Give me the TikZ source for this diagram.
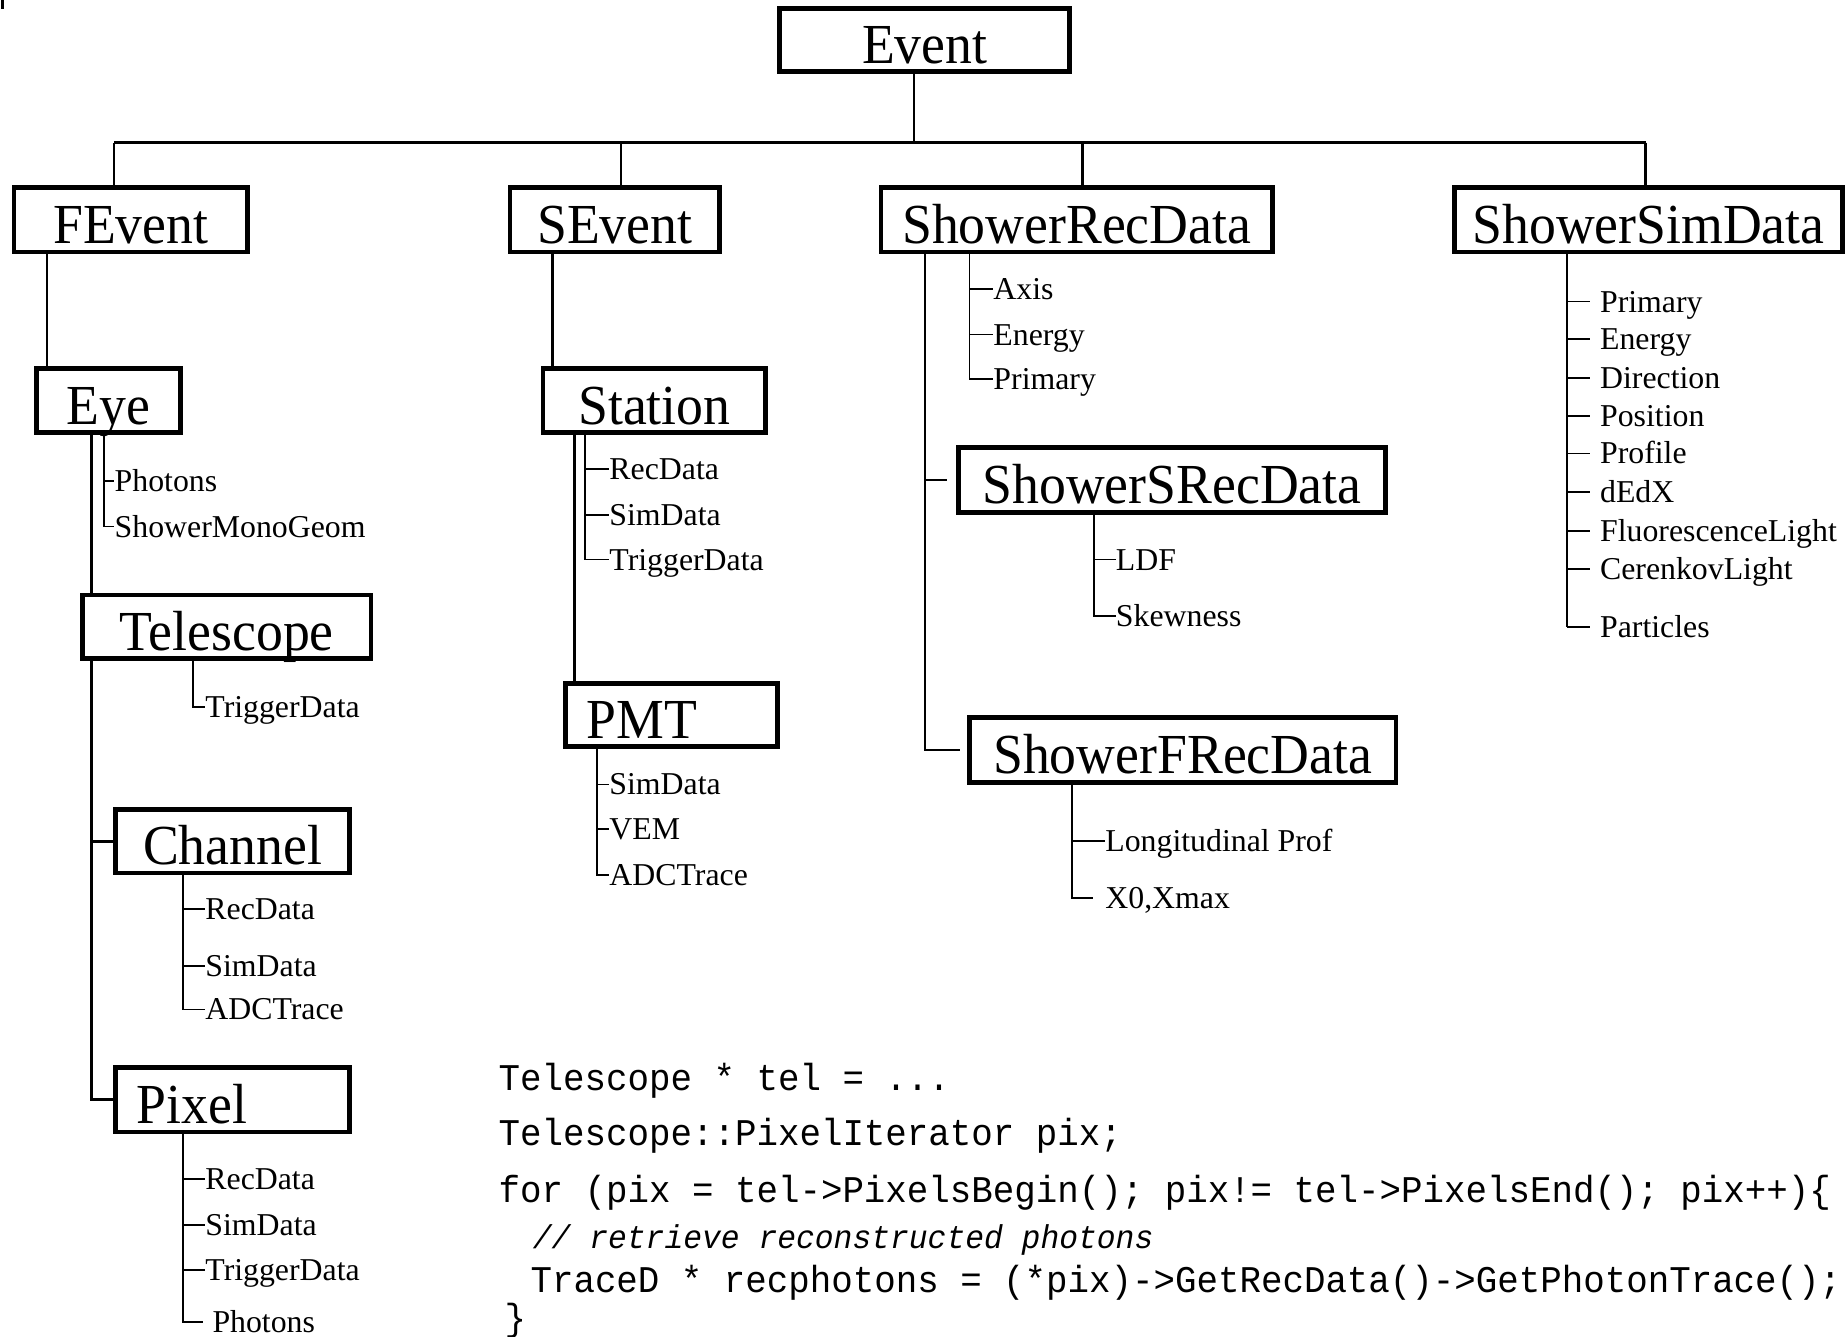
\documentclass[tikz,border=0pt]{standalone}
\usepackage{fontspec}
\setmainfont{Liberation Serif}
\newfontfamily\boxfont[FakeStretch=0.95]{Liberation Serif}
\newfontfamily\codefont[FakeStretch=0.95]{Liberation Mono}
\tikzset{
  bx/.style={draw, line width=2pt, rectangle, inner sep=0pt,
    font=\boxfont\fontsize{24}{24}\selectfont, text height=20pt, text depth=0pt},
  leftbx/.style={bx, align=left, inner xsep=9pt},
  lbl/.style={anchor=west, inner sep=0pt, font=\fontsize{13.5}{13.5}\selectfont,
    text height=8.9pt, text depth=0pt},
  code/.style={anchor=west, inner sep=0pt, font=\codefont\fontsize{16}{16}\selectfont,
    text height=9.5pt, text depth=0pt},
  codecomment/.style={code, font=\codefont\itshape\fontsize{14}{14}\selectfont},
  conn/.style={line width=1pt},
  mainconn/.style={line width=1.3pt},
  lst/.style={line width=0.8pt},
}
\begin{document}
\begin{tikzpicture}[x=0.5pt, y=-0.5pt]
\useasboundingbox (0,0) rectangle (1568,1135);
\draw[line width=1.5pt] (2,0) -- (2,8);

% ---- class boxes ----
\node[bx, minimum width=123pt, minimum height=27pt] (event) at (785,34) {Event};
\node[bx, minimum width=99pt, minimum height=27.5pt] (fevent) at (111,186.5) {FEvent};
\node[bx, minimum width=89pt, minimum height=27.5pt] (sevent) at (522,186.5) {SEvent};
\node[bx, minimum width=166pt, minimum height=27.5pt] (srec) at (914,186.5) {ShowerRecData};
\node[bx, minimum width=164.5pt, minimum height=27.5pt] (ssim) at (1399.5,186.5) {ShowerSimData};
\node[bx, minimum width=61pt, minimum height=27pt] (eye) at (92,340) {Eye};
\node[bx, minimum width=122.5pt, minimum height=27pt] (telescope) at (192.5,532) {Telescope};
\node[bx, minimum width=99.5pt, minimum height=27pt] (channel) at (197.5,714) {Channel};
\node[leftbx, minimum height=27.5pt, text width=81.5pt] (pixel) at (197.5,933.5) {Pixel};
\node[bx, minimum width=94.5pt, minimum height=27pt] (station) at (555.5,340) {Station};
\node[leftbx, minimum height=27pt, text width=72pt] (pmt) at (570,607) {PMT};
\node[bx, minimum width=181pt, minimum height=27.5pt] (ssrec) at (995,407.5) {ShowerSRecData};
\node[bx, minimum width=181pt, minimum height=27.5pt] (sfrec) at (1004,636.5) {ShowerFRecData};

% ---- top level bus ----
\coordinate (bus) at (776,121);
\coordinate (bf) at (97,121);
\coordinate (bs) at (527,121);
\coordinate (br) at (919,121);
\coordinate (bm) at (1397,121);
\draw[conn] (event.south -| bus) -- (bus);
\draw[conn] (bf) -- (bm);
\draw[conn] (bf) -- (bf |- fevent.north);
\draw[conn] (bs) -- (bs |- sevent.north);
\draw[conn] (br) -- (br |- srec.north);
\draw[conn] (bm) -- (bm |- ssim.north);

% ---- FEvent branch ----
\coordinate (fx) at (40,0);
\draw[conn] (fevent.south -| fx) -- (eye.north -| fx);
\coordinate (tx) at (78,0);
\draw[mainconn] (eye.south -| tx) -- (telescope.north -| tx);
\draw[mainconn] (telescope.south -| tx) |- (pixel.west);
\draw[mainconn] (tx |- channel.west) -- (channel.west);

% Eye members
\coordinate (eyeL) at (88,0);
\node[lbl] (eyeA) at (97,408) {Photons};
\node[lbl] (eyeB) at (97,447) {ShowerMonoGeom};
\draw[lst] (eye.south -| eyeL) |- (eyeB.west);
\draw[lst] (eyeL |- eyeA.west) -- (eyeA.west);

% Telescope members
\coordinate (telL) at (164,0);
\node[lbl] (telA) at (174,600) {TriggerData};
\draw[lst] (telescope.south -| telL) |- (telA.west);

% Channel members
\coordinate (chL) at (155,0);
\node[lbl] (chA) at (174,772) {RecData};
\node[lbl] (chB) at (174,820) {SimData};
\node[lbl] (chC) at (174,857) {ADCTrace};
\draw[lst] (channel.south -| chL) |- (chC.west);
\draw[lst] (chL |- chA.west) -- (chA.west);
\draw[lst] (chL |- chB.west) -- (chB.west);

% Pixel members
\coordinate (pxL) at (155,0);
\node[lbl] (pxA) at (174,1001) {RecData};
\node[lbl] (pxB) at (174,1040) {SimData};
\node[lbl] (pxC) at (174,1078) {TriggerData};
\node[lbl] (pxD) at (180,1122) {Photons};
\draw[lst] (pixel.south -| pxL) |- ([xshift=-4pt]pxD.west);
\draw[lst] (pxL |- pxA.west) -- (pxA.west);
\draw[lst] (pxL |- pxB.west) -- (pxB.west);
\draw[lst] (pxL |- pxC.west) -- (pxC.west);

% ---- SEvent branch ----
\coordinate (sx) at (469,0);
\draw[conn] (sevent.south -| sx) -- (station.north -| sx);
\coordinate (px) at (488,0);
\draw[mainconn] (station.south -| px) -- (pmt.north -| px);

% Station members
\coordinate (stL) at (497,0);
\node[lbl] (stA) at (517,398) {RecData};
\node[lbl] (stB) at (517,437) {SimData};
\node[lbl] (stC) at (517,475) {TriggerData};
\draw[lst] (station.south -| stL) |- (stC.west);
\draw[lst] (stL |- stA.west) -- (stA.west);
\draw[lst] (stL |- stB.west) -- (stB.west);

% PMT members
\coordinate (pmL) at (507,0);
\node[lbl] (pmA) at (517,666) {SimData};
\node[lbl] (pmB) at (517,704) {VEM};
\node[lbl] (pmC) at (517,743) {ADCTrace};
\draw[lst] (pmt.south -| pmL) |- (pmC.west);
\draw[lst] (pmL |- pmA.west) -- (pmA.west);
\draw[lst] (pmL |- pmB.west) -- (pmB.west);

% ---- ShowerRecData branch ----
\coordinate (rx) at (785,0);
\draw[conn] (srec.south -| rx) |- ([xshift=-3pt]sfrec.west);
\draw[conn] (rx |- ssrec.west) -- ([xshift=-4pt]ssrec.west);

\coordinate (srL) at (823,0);
\node[lbl] (srA) at (843,245) {Axis};
\node[lbl] (srB) at (843,284) {Energy};
\node[lbl] (srC) at (843,322) {Primary};
\draw[lst] (srec.south -| srL) |- (srC.west);
\draw[lst] (srL |- srA.west) -- (srA.west);
\draw[lst] (srL |- srB.west) -- (srB.west);

\coordinate (ssL) at (929,0);
\node[lbl] (ssA) at (947,475) {LDF};
\node[lbl] (ssB) at (947,523) {Skewness};
\draw[lst] (ssrec.south -| ssL) |- (ssB.west);
\draw[lst] (ssL |- ssA.west) -- (ssA.west);

\coordinate (sfL) at (910,0);
\node[lbl] (sfA) at (938,714) {Longitudinal Prof};
\node[lbl] (sfB) at (938,762) {X0,Xmax};
\draw[lst] (sfrec.south -| sfL) |- ([xshift=-5pt]sfB.west);
\draw[lst] (sfL |- sfA.west) -- (sfA.west);

% ---- ShowerSimData members ----
\coordinate (smL) at (1330,0);
\foreach \nm/\yy/\txt in {smA/256/Primary, smB/288/Energy, smC/321/Direction,
    smD/353/Position, smE/385/Profile, smF/418/dEdX, smG/451/FluorescenceLight,
    smH/483/CerenkovLight, smI/532/Particles}{
  \node[lbl] (\nm) at (1358,\yy) {\txt};
  \draw[lst] (smL |- \nm.west) -- ([xshift=-4pt]\nm.west);
}
\draw[lst] (ssim.south -| smL) -- (smL |- smI.west);

% ---- code fragment ----
\node[code] (c1) at (423,916) {Telescope * tel = ...};
\node[code] (c2) at (423,963) {Telescope::PixelIterator pix;};
\node[code] (c3) at (423,1011) {for (pix = tel->PixelsBegin(); pix!= tel->PixelsEnd(); pix++)\{};
\node[codecomment] (c4) at (452,1050) {// retrieve reconstructed photons};
\node[code] (c5) at (450,1088) {TraceD * recphotons = (*pix)->GetRecData()->GetPhotonTrace();};
\node[code] (c6) at (428,1120) {\}};
\end{tikzpicture}
\end{document}
